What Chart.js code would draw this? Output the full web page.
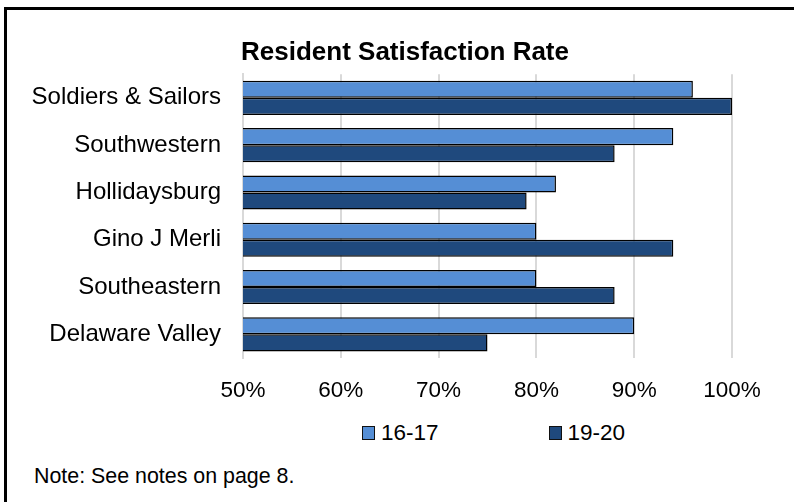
<!DOCTYPE html>
<html>
<head>
<meta charset="utf-8">
<script src="https://cdn.jsdelivr.net/npm/chart.js@4"></script>
<style>
  html, body { margin: 0; padding: 0; background: #fff; overflow: hidden; }
  body { width: 794px; height: 502px; position: relative; font-family: "Liberation Sans", Arial, sans-serif; }
  #frame { position: absolute; left: 4px; top: 7px; width: 900px; height: 600px; border: 3px solid #000; }
  #chart { position: absolute; left: 8px; top: 10px; }
  #legend { position: absolute; left: 362px; top: 420px; display: flex; align-items: center; font-size: 22.5px; color: #000; }
  #legend .item { display: flex; align-items: center; margin-right: 110px; }
  #legend .box { width: 11px; height: 12px; border: 1.5px solid #111; margin-right: 6px; }
  #note { position: absolute; left: 34px; top: 464px; line-height: 24px; font-size: 21.4px; color: #000; }
</style>
</head>
<body>
<div id="frame"></div>
<canvas id="chart" width="794" height="400"></canvas>
<div id="legend"></div>
<div id="note">Note: See notes on page 8.</div>
<script>
// categories and series
const categories = ['Soldiers & Sailors', 'Southwestern', 'Hollidaysburg', 'Gino J Merli', 'Southeastern', 'Delaware Valley'];
const seriesNames = ['16-17', '19-20'];
const values1617 = [96, 94, 82, 80, 80, 90];
const values1920 = [100, 88, 79, 94, 88, 75];
const xTicks = [50, 60, 70, 80, 90, 100];

const colors = { light: '#558ed5', dark: '#1f497d', grid: '#d9d9d9' };
const font = '"Liberation Sans", Arial, sans-serif';

const datasets = [
    { label: seriesNames[0], data: values1617, backgroundColor: colors.light },
    { label: seriesNames[1], data: values1920, backgroundColor: colors.dark },
].map((ds) => ({
    ...ds,
    borderColor: '#000',
    borderWidth: 1.5,
    borderSkipped: false,
    categoryPercentage: 0.72,
    barPercentage: 1.0,
}));

const chart = new Chart(document.getElementById('chart'), {
    type: 'bar',
    data: { labels: categories, datasets },
    options: {
        indexAxis: 'y',
        responsive: false,
        animation: false,
        layout: { padding: 0 },
        plugins: {
            legend: { display: false },
            tooltip: { enabled: false },
            title: {
                display: true,
                text: 'Resident Satisfaction Rate',
                color: '#000',
                font: { family: font, size: 26, weight: 'bold' },
                padding: { top: 27, bottom: 6 },
            },
        },
        scales: {
            x: {
                min: xTicks[0],
                max: xTicks[xTicks.length - 1],
                afterBuildTicks: (axis) => { axis.ticks = xTicks.map((v) => ({ value: v })); },
                afterFit: (axis) => { axis.height = 52; },
                ticks: {
                    callback: (v) => v + '%',
                    color: '#000',
                    font: { family: font, size: 22.5 },
                    padding: 19,
                    maxRotation: 0,
                },
                grid: { color: colors.grid, lineWidth: 2, drawTicks: false },
                border: { display: false },
            },
            y: {
                afterFit: (axis) => { axis.width = 235; },
                ticks: {
                    color: '#000',
                    font: { family: font, size: 24 },
                    padding: 22,
                },
                grid: { display: false, drawTicks: false },
                border: { display: true, color: colors.grid, width: 2 },
            },
            // empty right-hand margin so the title centres on the whole frame
            yRight: {
                type: 'category',
                position: 'right',
                afterFit: (axis) => { axis.width = 70; },
                ticks: { display: false },
                grid: { display: false, drawTicks: false },
                border: { display: false },
            },
        },
    },
});

// legend as real text next to coloured squares
const legendEl = document.getElementById('legend');
chart.data.datasets.forEach((ds) => {
    const item = document.createElement('span');
    item.className = 'item';
    const box = document.createElement('span');
    box.className = 'box';
    box.style.background = ds.backgroundColor;
    const label = document.createElement('span');
    label.textContent = ds.label;
    item.appendChild(box);
    item.appendChild(label);
    legendEl.appendChild(item);
});
</script>
</body>
</html>
